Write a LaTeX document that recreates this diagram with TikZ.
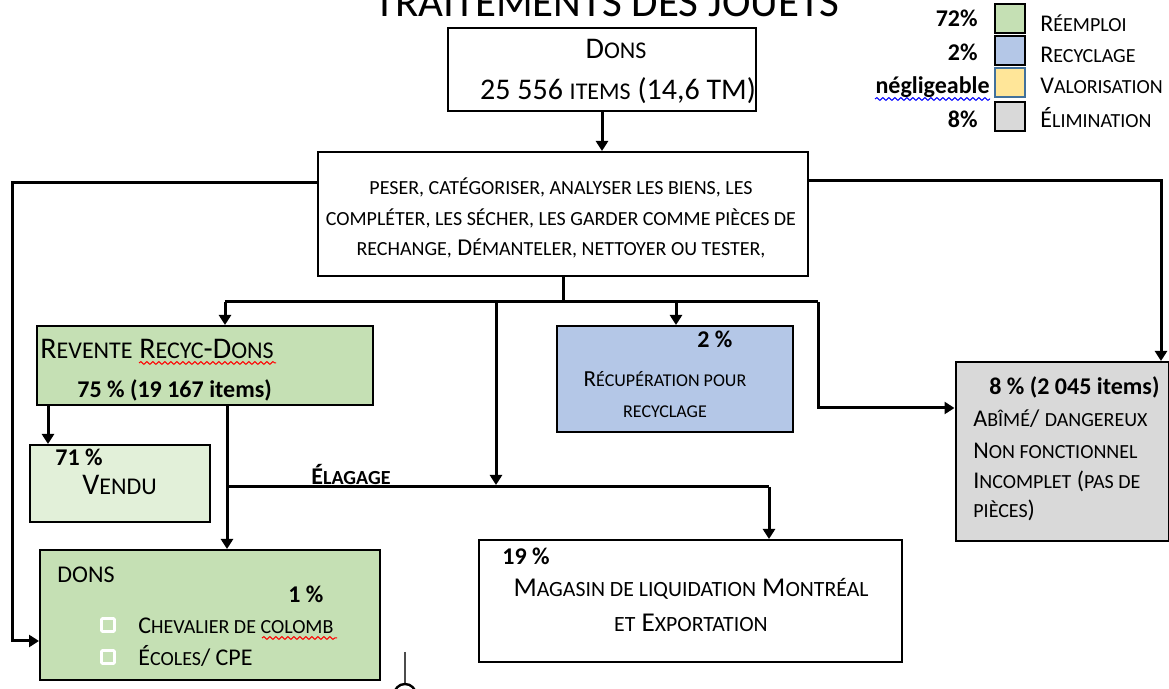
\documentclass[tikz,border=0pt]{standalone}
\usepackage{fontspec}
\setmainfont{Carlito}
\usepackage{relsize}
\usetikzlibrary{arrows.meta, positioning, calc, decorations.pathmorphing}
\definecolor{vertreemploi}{RGB}{197, 224, 180}
\definecolor{vertclair}{RGB}{226, 240, 217}
\definecolor{bleurecyc}{RGB}{180, 199, 231}
\definecolor{jauneval}{RGB}{255, 230, 153}
\definecolor{griselim}{RGB}{217, 217, 217}
\definecolor{bordbleu}{RGB}{65, 113, 156}
\newcommand{\pc}[1]{\textscale{0.8}{#1}}

\begin{document}
\begin{tikzpicture}[x=0.5pt, y=-0.5pt,
    box/.style={rectangle, draw, line width=1pt, inner sep=0pt},
    arrow/.style={->, line width=1.5pt, >={Triangle[width=6pt,length=5pt]}},
    ligne/.style={line width=1.5pt},
    txt/.style={inner sep=0pt, font=\fontsize{12}{14}\selectfont},
    gros/.style={inner sep=0pt, font=\fontsize{15}{18}\selectfont},
    pct/.style={inner sep=0pt, font=\fontsize{12}{14}\selectfont\bfseries},
    legende/.style={draw, line width=1pt, minimum width=15pt, minimum height=14.5pt, inner sep=0pt},
    case/.style={draw=white, line width=1.4pt, minimum size=6.5pt, inner sep=0pt, rounded corners=0.6pt},
    faute/.style={decorate, decoration={snake, segment length=3pt, amplitude=0.7pt}, line width=0.5pt}
]
    \useasboundingbox (0,0) rectangle (1169,689);

    % Titre
    \node[inner sep=0pt, font=\fontsize{21.5}{24}\selectfont, anchor=base] (titre) at (607,17) {TRAITEMENTS DES JOUETS};

    % Legende
    \node[legende, fill=vertreemploi] (l1) at (1010,19) {};
    \node[legende, fill=bleurecyc] (l2) at (1010,51) {};
    \node[legende, fill=jauneval, draw=bordbleu] (l3) at (1010,83) {};
    \node[legende, fill=griselim] (l4) at (1010,117) {};
    \node[txt, anchor=base west] (r1) at (1040,32) {R\pc{ÉEMPLOI}};
    \node[txt, anchor=base west] (r2) at (1040,63) {R\pc{ECYCLAGE}};
    \node[txt, anchor=base west] (r3) at (1040,94) {V\pc{ALORISATION}};
    \node[txt, anchor=base west] (r4) at (1040,128) {É\pc{LIMINATION}};
    \node[pct, anchor=base east] (p1) at (978,27) {72\%};
    \node[pct, anchor=base east] (p2) at (978,61) {2\%};
    \node[pct, anchor=base east] (p3) at (990,94) {négligeable};
    \node[pct, anchor=base east] (p4) at (978,128) {8\%};
    \draw[faute, blue] (875,99) -- (990,99);

    % Dons
    \node[box, minimum width=154pt, minimum height=41.5pt] (dons) at (602,69.5) {};
    \node[gros, anchor=base] (donsT) at (616,59) {D\pc{ONS}};
    \node[gros, anchor=base] (donsN) at (618,100) {25 556 \pc{ITEMS} (14,6 TM)};

    % Tri
    \node[box, minimum width=245pt, minimum height=62pt] (tri) at (563,214) {};
    \node[txt, font=\fontsize{12.1}{14}\selectfont, anchor=base] (tri1) at (561,195) {\pc{PESER, CATÉGORISER, ANALYSER LES BIENS, LES}};
    \node[txt, font=\fontsize{12.1}{14}\selectfont, anchor=base] (tri2) at (561,226) {\pc{COMPLÉTER, LES SÉCHER, LES GARDER COMME PIÈCES DE}};
    \node[txt, font=\fontsize{12.1}{14}\selectfont, anchor=base] (tri3) at (561,256) {\pc{RECHANGE,} D\pc{ÉMANTELER, NETTOYER OU TESTER,}};

    % Revente
    \node[box, fill=vertreemploi, minimum width=168pt, minimum height=39.5pt] (rev) at (205,365.5) {};
    \node[gros, anchor=base west] (revT) at (40,359) {R\pc{EVENTE} R\pc{ECYC}-D\pc{ONS}};
    \node[pct, anchor=base west] (revP) at (77,398) {75 \% (19 167 items)};
    \draw[faute, red] (139,363) -- (276,363);

    % Vendu
    \node[box, fill=vertclair, minimum width=90pt, minimum height=38.5pt] (vend) at (120,483.5) {};
    \node[pct, anchor=base west] (vendP) at (55,466) {71 \%};
    \node[gros, anchor=base west] (vendT) at (82,495) {V\pc{ENDU}};

    % Dons (bas)
    \node[box, fill=vertreemploi, minimum width=170pt, minimum height=65pt] (don2) at (210,615) {};
    \node[txt, anchor=base west] (don2T) at (57,583) {DONS};
    \node[pct, anchor=base west] (don2P) at (288,603) {1 \%};
    \node[txt, anchor=base west] (chev) at (138,634) {C\pc{HEVALIER DE COLOMB}};
    \node[txt, anchor=base west] (ecol) at (138,666) {É\pc{COLES}/ CPE};
    \node[case] (cb1) at (108,625) {};
    \node[case] (cb2) at (108,657) {};
    \draw[faute, red] (262,638) -- (337,638);

    % Magasin
    \node[box, minimum width=211.5pt, minimum height=61pt] (mag) at (690.5,601) {};
    \node[pct, anchor=base west] (magP) at (502,565) {19 \%};
    \node[txt, font=\fontsize{13.6}{15}\selectfont, anchor=base] (magT) at (691,597) {M\pc{AGASIN DE LIQUIDATION} M\pc{ONTRÉAL}};
    \node[txt, font=\fontsize{13.6}{15}\selectfont, anchor=base] (magT2) at (691,632) {\pc{ET} E\pc{XPORTATION}};

    % Recuperation
    \node[box, fill=bleurecyc, minimum width=118pt, minimum height=53pt] (recup) at (675,379) {};
    \node[pct, anchor=base west] (recupP) at (697,348) {2 \%};
    \node[txt, font=\fontsize{11.5}{14}\selectfont, anchor=base] (recupT) at (665,387) {R\pc{ÉCUPÉRATION POUR}};
    \node[txt, font=\fontsize{11.5}{14}\selectfont, anchor=base] (recupT2) at (665,418) {\pc{RECYCLAGE}};

    % Elimination
    \node[box, fill=griselim, minimum width=106.5pt, minimum height=89.5pt] (elim) at (1062,451.5) {};
    \node[pct, anchor=base west] (elimP) at (989,395) {8 \% (2 045 items)};
    \node[txt, anchor=base west] (elim1) at (973,427) {A\pc{BÎMÉ}/ \pc{DANGEREUX}};
    \node[txt, anchor=base west] (elim2) at (973,459) {N\pc{ON FONCTIONNEL}};
    \node[txt, anchor=base west] (elim3) at (973,489) {I\pc{NCOMPLET} (\pc{PAS DE}};
    \node[txt, anchor=base west] (elim4) at (973,518) {\pc{PIÈCES})};

    % Connecteurs
    \coordinate (cg) at (12,183);
    \coordinate (cd) at (1161,181);
    \coordinate (jb) at (563,302);
    \coordinate (jg) at (225,302);
    \coordinate (jm) at (496,302);
    \coordinate (jr) at (676,302);
    \coordinate (jd) at (818,302);
    \coordinate (ce) at (818,408);
    \coordinate (el) at (496,485);
    \coordinate (ea) at (227,487);
    \coordinate (eb) at (769,487);

    \draw[arrow] (dons.south) -- (dons.south |- tri.north);
    \draw[arrow] (tri.west |- cg) -- (cg) |- ([yshift=-13pt]don2.west);
    \draw[arrow] (tri.east |- cd) -- (cd) -- (cd |- elim.north);
    \draw[ligne] (tri.south) -- (jb);
    \draw[ligne] (jg) -- (jd);
    \draw[arrow] (jg) -- (jg |- rev.north);
    \draw[arrow] (jr) -- (jr |- recup.north);
    \draw[arrow] (jm) -- (el);
    \draw[arrow] (jd) -- (ce) -- (ce -| elim.west);
    \draw[arrow] ([xshift=6pt]rev.south west) -- ([xshift=6pt]rev.south west |- vend.north);
    \draw[ligne] (rev.south -| ea) -- (ea) -- (eb);
    \draw[arrow] (eb) -- (eb |- mag.north);
    \draw[arrow] (ea) -- (ea |- don2.north);
    \node[pct, anchor=base west] (elag) at (311,485) {É\pc{LAGAGE}};

    % trait et cercle en bas
    \draw[line width=0.6pt, black!70] (405,652) -- (405,683);
    \draw[line width=1.2pt] (405,695) circle[radius=5.5pt];
\end{tikzpicture}
\end{document}
